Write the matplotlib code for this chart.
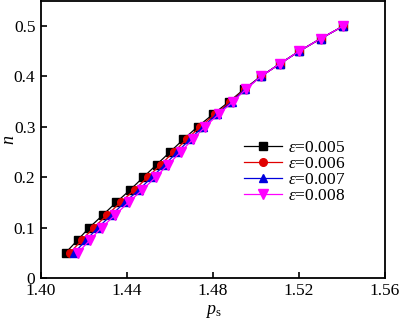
import matplotlib
matplotlib.use("Agg")
import matplotlib.pyplot as plt

plt.rcParams['font.family'] = ['Liberation Serif', 'DejaVu Serif']
plt.rcParams['mathtext.fontset'] = 'custom'
plt.rcParams['mathtext.it'] = 'Liberation Serif:italic'
plt.rcParams['mathtext.rm'] = 'Liberation Serif'

# ─── Datos ────────────────────────────────────────────────
n = [0.05, 0.075, 0.1, 0.125, 0.15, 0.175, 0.2, 0.225, 0.25, 0.275,
     0.3, 0.325, 0.35, 0.375, 0.4, 0.425, 0.45, 0.475, 0.5]
ps_005 = [1.4115, 1.4170, 1.4225, 1.4288, 1.4350, 1.4415, 1.4476, 1.4538, 1.4600, 1.4662,
          1.4728, 1.4800, 1.4875, 1.4945, 1.5022, 1.5110, 1.5200, 1.5300, 1.5405]
ps_006 = [1.4135, 1.4190, 1.4245, 1.4308, 1.4370, 1.4435, 1.4496, 1.4557, 1.4617, 1.4677,
          1.4740, 1.4809, 1.4881, 1.4948, 1.5022, 1.5110, 1.5200, 1.5300, 1.5405]
ps_007 = [1.4155, 1.4210, 1.4265, 1.4328, 1.4390, 1.4455, 1.4516, 1.4576, 1.4634, 1.4692,
          1.4752, 1.4818, 1.4887, 1.4951, 1.5022, 1.5110, 1.5200, 1.5300, 1.5405]
ps_008 = [1.4172, 1.4227, 1.4282, 1.4345, 1.4407, 1.4472, 1.4533, 1.4592, 1.4649, 1.4705,
          1.4763, 1.4826, 1.4893, 1.4954, 1.5023, 1.5110, 1.5200, 1.5300, 1.5405]
etiquetas = ['0.005', '0.006', '0.007', '0.008']
xticks = [1.40, 1.44, 1.48, 1.52, 1.56]
yticks = [0, 0.1, 0.2, 0.3, 0.4, 0.5]

fig = plt.figure(figsize=(4.0, 3.22), dpi=100)
ax = fig.add_axes([0.1025, 0.137, 0.86, 0.86])

estilos = [('black', 's', 5.5), ('#e00000', 'o', 5.5), ('#0000dd', '^', 6), ('#ff00ff', 'v', 6.5)]
for ps, lab, (c, m, ms) in zip([ps_005, ps_006, ps_007, ps_008], etiquetas, estilos):
    ax.plot(ps, n, color=c, marker=m, markersize=ms, linewidth=0.9,
            label=r'$\varepsilon$=' + lab)

ax.set_xlim(1.40, 1.56)
ax.set_ylim(0, 0.55)
ax.set_xticks(xticks)
ax.set_xticklabels(['%.2f' % v for v in xticks])
ax.set_yticks(yticks)
ax.set_yticklabels(['0'] + ['%.1f' % v for v in yticks[1:]])
ax.tick_params(direction='in', length=4, width=1.2, labelsize=12.5, pad=4)
for s in ax.spines.values():
    s.set_linewidth(1.3)

ax.set_xlabel(r'$p_{\rm s}$', fontsize=13)
ax.set_ylabel(r'$n$', fontsize=13)
ax.xaxis.set_label_coords(0.5, -0.092)
ax.yaxis.set_label_coords(-0.068, 0.5)

ax.legend(loc='upper left', bbox_to_anchor=(0.59, 0.5), frameon=False,
          fontsize=12.5, handlelength=2.2, handletextpad=0.35, labelspacing=0.0,
          borderaxespad=0, borderpad=0)

fig.savefig('out.png', dpi=100)
